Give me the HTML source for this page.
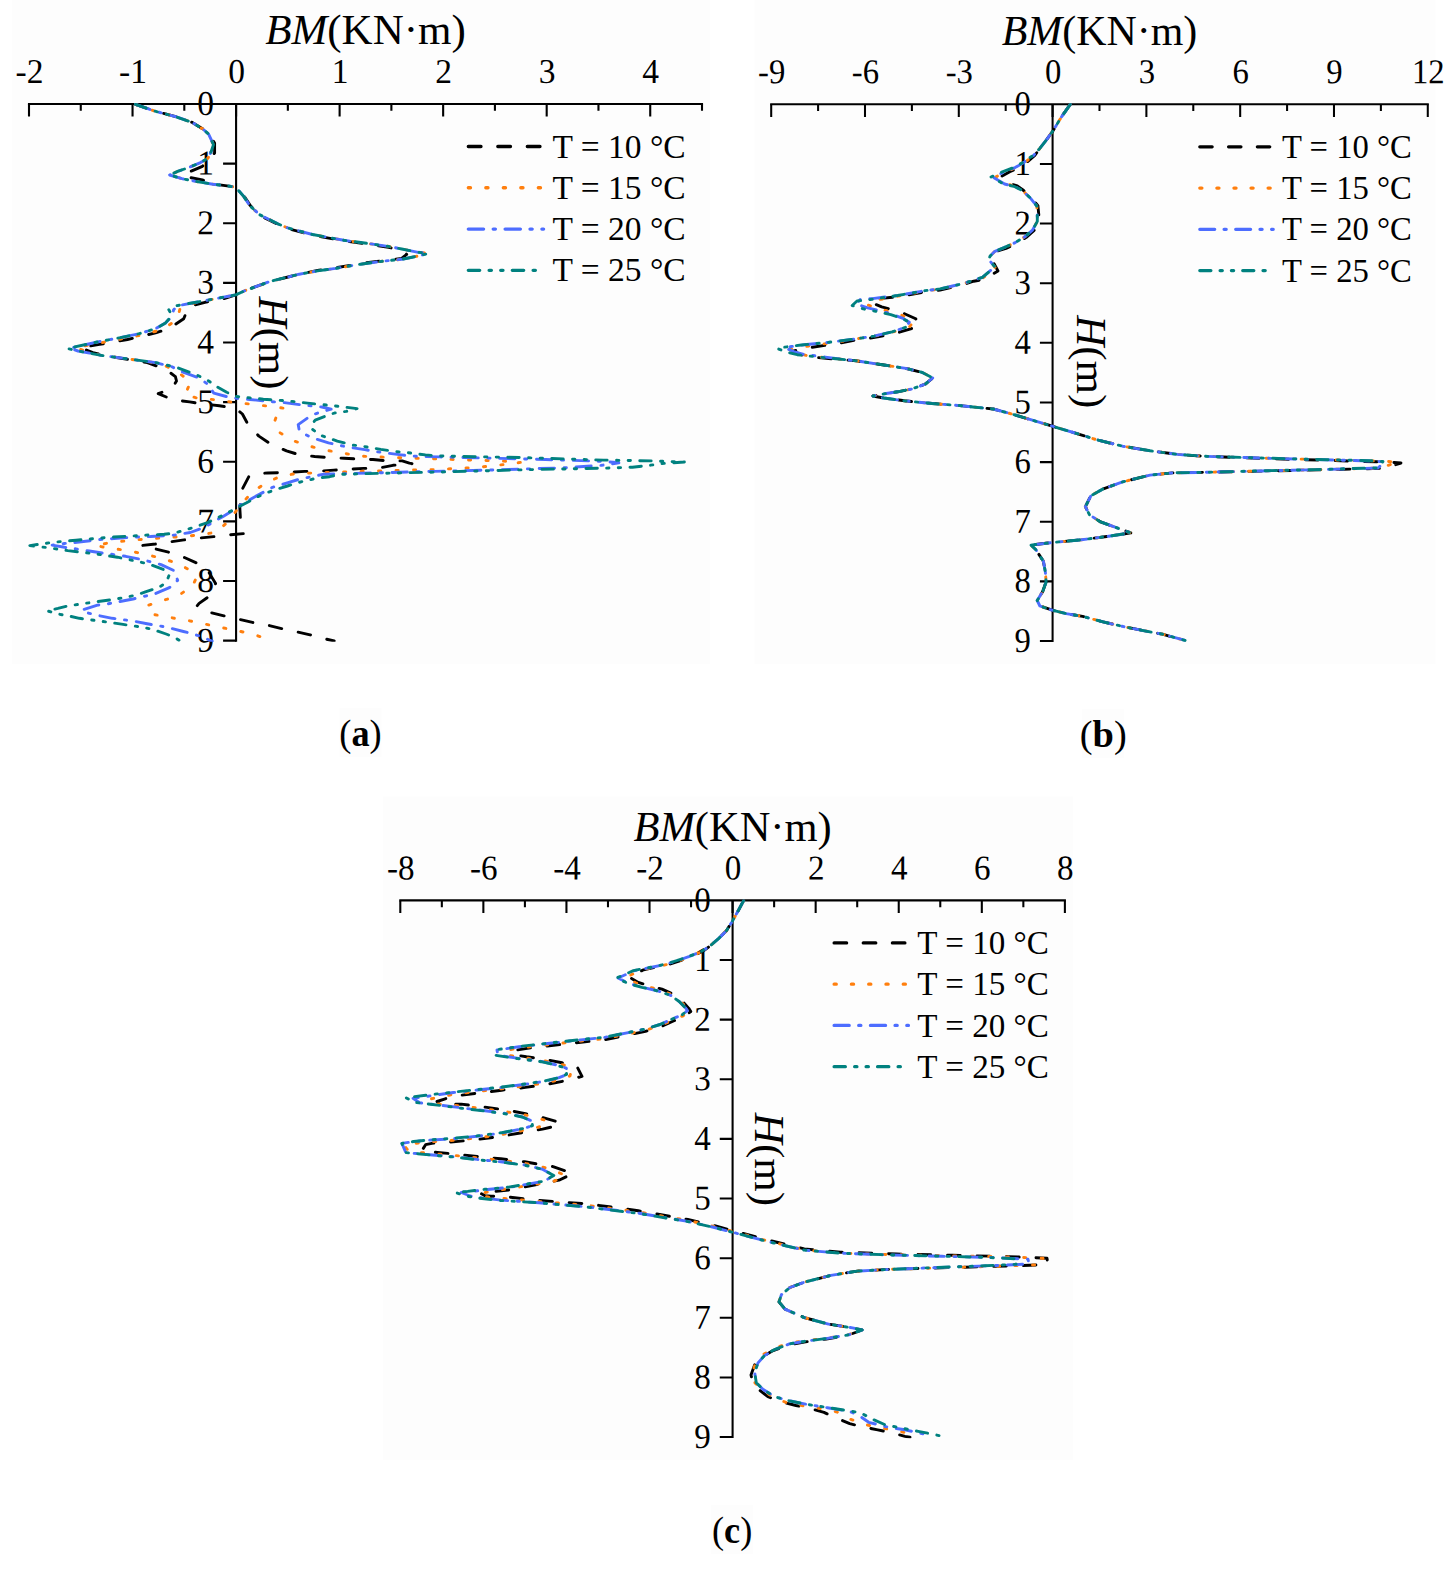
<!DOCTYPE html>
<html lang="en"><head><meta charset="utf-8"><title>Bending moment versus depth at different temperatures</title>
<style>
html,body{margin:0;padding:0;background:#ffffff;}
body{width:1453px;height:1571px;overflow:hidden;}
svg{display:block;}
text{font-family:'Liberation Serif', serif;fill:#000;}
.tk{font-size:33.5px;}
.tn{font-size:34.9px;}
.tt{font-size:43px;}
.cap{font-size:38px;}
.ax{stroke:#000;stroke-width:2.1;fill:none;stroke-linecap:butt;}
.cv{fill:none;stroke-width:2.9;stroke-linejoin:round;stroke-linecap:round;}
</style></head><body>
<svg width="1453" height="1571" viewBox="0 0 1453 1571">
<rect x="0" y="0" width="1453" height="1571" fill="#ffffff"/>
<!-- chart (a) -->
<clipPath id="clip-a"><rect x="27" y="103" width="677" height="538.87"/></clipPath>
<g transform="translate(29 104) scale(1.0 1)">
<rect x="-17.2" y="-104" width="698.2" height="663.7" fill="#fdfdfd"/>
<text class="tt" x="336.5" y="-59.6" text-anchor="middle"><tspan font-style="italic">BM</tspan>(KN·m)</text>
<path class="ax" d="M-1.05 0H674.05"/>
<path class="ax" d="M0 0V12.6M51.77 0V6.8M103.54 0V12.6M155.31 0V6.8M207.08 0V12.6M258.85 0V6.8M310.62 0V12.6M362.38 0V6.8M414.15 0V12.6M465.92 0V6.8M517.69 0V12.6M569.46 0V6.8M621.23 0V12.6M673 0V6.8"/>
<text class="tn" transform="translate(0.5 -21) rotate(0.06) scale(0.96 1)" text-anchor="middle">-2</text>
<text class="tn" transform="translate(104.04 -21) rotate(0.06) scale(0.96 1)" text-anchor="middle">-1</text>
<text class="tn" transform="translate(207.58 -21) rotate(0.06) scale(0.96 1)" text-anchor="middle">0</text>
<text class="tn" transform="translate(311.12 -21) rotate(0.06) scale(0.96 1)" text-anchor="middle">1</text>
<text class="tn" transform="translate(414.65 -21) rotate(0.06) scale(0.96 1)" text-anchor="middle">2</text>
<text class="tn" transform="translate(518.19 -21) rotate(0.06) scale(0.96 1)" text-anchor="middle">3</text>
<text class="tn" transform="translate(621.73 -21) rotate(0.06) scale(0.96 1)" text-anchor="middle">4</text>
<path class="ax" d="M207.08 0V537.72"/>
<path class="ax" d="M194.08 59.63H207.08M194.08 119.26H207.08M194.08 178.89H207.08M194.08 238.52H207.08M194.08 298.15H207.08M194.08 357.78H207.08M194.08 417.41H207.08M194.08 477.04H207.08M194.08 536.67H207.08"/>
<text class="tn" transform="translate(184.88 11) rotate(0.06) scale(0.96 1)" text-anchor="end">0</text>
<text class="tn" transform="translate(184.88 70.63) rotate(0.06) scale(0.96 1)" text-anchor="end">1</text>
<text class="tn" transform="translate(184.88 130.26) rotate(0.06) scale(0.96 1)" text-anchor="end">2</text>
<text class="tn" transform="translate(184.88 189.89) rotate(0.06) scale(0.96 1)" text-anchor="end">3</text>
<text class="tn" transform="translate(184.88 249.52) rotate(0.06) scale(0.96 1)" text-anchor="end">4</text>
<text class="tn" transform="translate(184.88 309.15) rotate(0.06) scale(0.96 1)" text-anchor="end">5</text>
<text class="tn" transform="translate(184.88 368.78) rotate(0.06) scale(0.96 1)" text-anchor="end">6</text>
<text class="tn" transform="translate(184.88 428.41) rotate(0.06) scale(0.96 1)" text-anchor="end">7</text>
<text class="tn" transform="translate(184.88 488.04) rotate(0.06) scale(0.96 1)" text-anchor="end">8</text>
<text class="tn" transform="translate(184.88 547.67) rotate(0.06) scale(0.96 1)" text-anchor="end">9</text>
<text class="tt" transform="translate(229.68 239) rotate(90)" text-anchor="middle"><tspan font-style="italic">H</tspan>(m)</text>
<path d="M439.3 42.5H514.6" fill="none" stroke-linecap="round" stroke="#000000" stroke-width="3.3" stroke-dasharray="12.7 16.8"/>
<text class="tk" x="523.6" y="53.6">T = 10 °C</text>
<path d="M439.3 83.77H514.6" fill="none" stroke-linecap="round" stroke="#FF7F0E" stroke-width="3.3" stroke-dasharray="2.2 15.3"/>
<text class="tk" x="523.6" y="94.87">T = 15 °C</text>
<path d="M439.3 125.04H514.6" fill="none" stroke-linecap="round" stroke="#4D6DFF" stroke-width="3.3" stroke-dasharray="15.3 9.6 2.2 9.7"/>
<text class="tk" x="523.6" y="136.14">T = 20 °C</text>
<path d="M439.3 166.31H514.6" fill="none" stroke-linecap="round" stroke="#00817F" stroke-width="3.3" stroke-dasharray="11.4 9.4 2.3 9.3 2.3 9.3"/>
<text class="tk" x="523.6" y="177.41">T = 25 °C</text>
</g>
<g clip-path="url(#clip-a)">
<path class="cv" d="M135.5 104.3 L154.7 111.1 L175.7 116.7 L191.9 122.3 L203 129.1 L208.6 134.1 L214.6 143 L214.6 153 L209.5 159 L202.4 166.3 L189.4 171.9 L183.5 174.5 L189.4 177.4 L202.4 179.9 L212.9 184 L229 186.1 L235.8 187.3 L244.5 196.6 L250.3 205.6 L259.6 215.3 L277.8 224.4 L287.7 228.5 L312.5 235.1 L343.9 240.9 L368.7 244.3 L388.5 247.3 L401.7 250.5 L406.7 254.3 L401.7 258.4 L385.2 260.3 L360.4 263.6 L335.6 267.8 L317.5 270.4 L299.3 274.2 L269.6 281.6 L244.8 290.7 L235.7 294.9 L220 299.8 L205 302.3 L188.7 306.4 L183.7 318.8 L168.8 328.7 L155.6 332.9 L127.5 339.5 L99.5 344.4 L80.5 347.7 L92.9 352.7 L110 356.5 L130.8 359.8 L147.4 362.6 L165.5 369.2 L175.4 376.6 L176.5 381 L172.1 388.2 L158.2 393.7 L173 399.7 L189.6 401.9 L202.8 403.9 L219.3 405.8 L232.5 407.7 L237 409.5 L242.4 414 L249 426.2 L258.9 436.1 L271 444.3 L286.5 450.9 L299.8 454.9 L314.7 456.5 L329 457.6 L343.9 458.2 L358.7 459.1 L373 459.5 L387.9 460.9 L402.2 460.9 L409.4 463.1 L412 463.7 L392.9 465.3 L378.6 468.1 L363.7 468.4 L349.4 469.2 L334 470.1 L320.2 471.1 L304.8 471.4 L290.5 472.3 L267.7 473 L260.9 473.4 L249.1 476.1 L242.3 489.1 L239.8 507.7 L240.4 518.2 L243.5 533.6 L228.7 534.9 L213.8 536.6 L199.6 538 L184 539.9 L170.4 541.8 L155.4 544 L141.3 545.6 L155.4 548.9 L168.6 552.2 L182.6 556.7 L195.8 562.6 L208.2 571.2 L215.6 583.6 L210.7 595.2 L199.1 603.4 L197 606 L209.9 612.5 L223.9 615.8 L237.9 619.1 L252.5 622.4 L266.7 624.9 L281.6 628.6 L295.8 631.7 L310.1 634.8 L323.7 638.5 L334.2 641" stroke="#000000" stroke-dasharray="12.7 16.8"/>
<path class="cv" d="M135.5 104.3 L154.7 111.1 L175.7 116.7 L191.9 122.3 L203 129.1 L208.6 134.1 L213.5 144.6 L211 152 L208 158.2 L200.5 162.6 L188.8 167.5 L178.2 171.2 L169.6 175 L182 178.7 L194.3 181.1 L212.9 184.2 L229 186.1 L235.8 187.3 L243.9 196.6 L249.7 205.6 L259.6 214.7 L277.8 223.8 L287.7 227.9 L312.5 234.5 L343.9 240.3 L368.7 243.6 L388.5 246.4 L401.7 249 L418.2 252.3 L428.1 253.5 L418.2 256 L401.7 259.3 L385.2 260.9 L360.4 264.2 L335.6 268.4 L317.5 270.9 L299.3 274.2 L269.6 281.6 L244.8 290.7 L235.7 294.9 L207 300.4 L188 304.5 L180.4 307.3 L177.1 319.6 L162.2 329.6 L140 335.3 L119.3 339.3 L98 343.3 L75.5 347.7 L90 352.6 L102.8 355.6 L130.8 359.3 L155.6 362.8 L165.5 365.9 L176.9 371.7 L190.7 381.6 L185.1 394.8 L197.3 398.1 L214.9 399.7 L232.5 402.2 L250.1 404.1 L267.7 406.1 L284.8 408.3 L276.5 416.3 L274 423 L276.5 430.6 L292.3 440.4 L309.2 446.1 L326.3 450.3 L343.3 453.2 L360.9 456.2 L378.6 456.9 L395.6 457.6 L413.2 458.2 L430.9 458.7 L517.7 461.6 L520.6 462.4 L506.1 464.3 L488.8 466.3 L471 467.7 L454 468.6 L436.7 469.5 L401.7 470.3 L367 471.2 L331.8 472.3 L314.1 473 L296.8 473.4 L280.1 476.4 L265.2 483.3 L251.6 492.8 L240 505.5 L229.3 520.5 L216.3 532.2 L198.9 535 L181.6 536.6 L164.2 537.8 L146.3 539 L128.9 540.6 L111.6 542.3 L95.1 545.6 L111.6 548.4 L128.1 550.6 L145.4 554.4 L162 558.3 L178.5 563.8 L191.7 571.2 L196 578.5 L192.5 586.1 L177.7 596 L160.3 601.3 L146.3 605.9 L153.7 614.5 L170.2 617.5 L187.6 620.4 L204.9 624.1 L222.3 627.7 L238.8 631 L256.8 635.4 L271.7 641" stroke="#FF7F0E" stroke-dasharray="2.2 15.3"/>
<path class="cv" d="M135.5 104.3 L154.7 111.1 L175.7 116.7 L191.9 122.3 L203 129.1 L208.6 134.1 L213.5 144.6 L211 152 L208 158.2 L200.5 162.6 L188.8 167.5 L178.2 171.2 L169.6 175 L182 178.7 L194.3 181.1 L212.9 184.2 L229 186.1 L235.8 187.3 L243.9 196.6 L249.7 205.6 L259.6 214.7 L277.8 223.8 L287.7 227.9 L312.5 234.5 L343.9 240.3 L368.7 243.6 L388.5 246.4 L401.7 249 L418.2 252.3 L428.1 253.5 L418.2 256 L401.7 259.3 L385.2 260.9 L360.4 264.2 L335.6 268.4 L317.5 270.9 L299.3 274.2 L269.6 281.6 L244.8 290.7 L235.7 294.9 L205.2 300.6 L177.5 305.8 L173.5 310 L172.5 315.5 L165.5 322.9 L155.6 328.7 L139.1 333.7 L119.3 337.8 L97.8 341.9 L69.5 348.3 L78 351 L102.8 355.6 L130.8 359.3 L155.6 362.6 L172 366.8 L181.8 371.7 L198.4 377.7 L207.2 383.8 L213.8 393.1 L228.1 397 L236.9 398.4 L250.1 399.5 L274.3 401.9 L284.4 402.6 L301 404.8 L311.4 405.9 L321.8 407 L331.2 409.2 L320.2 412.2 L311.4 415.2 L298.2 424.6 L299 429 L303.1 433.2 L311.9 437.8 L328.5 442.8 L338.4 445.2 L347.7 447 L364.8 449.6 L374.2 451.4 L384.6 452.7 L401.1 454.9 L411 456 L421 456.5 L440 456.9 L545.6 459.5 L603.4 461.4 L618.9 462.8 L601.5 465.3 L564.9 467.8 L487.8 470.1 L434 471.4 L390 472.5 L346 473.6 L324 474.2 L308.6 477.3 L298 479.6 L288.1 482.7 L272.6 487.3 L263.4 492.2 L254.1 497.2 L239.2 505.8 L232.4 510.8 L223.1 516.4 L208.2 525 L199.6 529.1 L190.3 532.5 L174.8 535 L150.4 536.5 L137.2 537 L114 538.5 L100 539.5 L76.9 542.3 L64.5 543.5 L52.1 545.1 L64.5 547.3 L76 548.9 L89.3 551 L102.5 553 L125.6 556.3 L142.1 559.6 L161.1 564.6 L173.5 570.4 L177.7 580.3 L169.4 587.7 L153.7 594.3 L142.1 596.8 L133.1 599 L118.2 601.8 L107.5 603.9 L97.5 605.1 L81.9 610 L86 612.5 L95.9 615 L112.4 618.3 L131.4 620.8 L147.1 623.7 L167.7 627.4 L183.4 631.5 L193.3 634 L203.3 637.3 L212.3 641.4" stroke="#4D6DFF" stroke-dasharray="15.3 9.6 2.2 9.7"/>
<path class="cv" d="M135.5 104.3 L154.7 111.1 L175.7 116.7 L191.9 122.3 L203 129.1 L208.6 134.1 L213.5 144.6 L211 152 L208 158.2 L200.5 162.6 L188.8 167.5 L178.2 171.2 L169.6 175 L182 178.7 L194.3 181.1 L212.9 184.2 L229 186.1 L235.8 187.3 L243.9 196.6 L249.7 205.6 L259.6 214.7 L277.8 223.8 L287.7 227.9 L312.5 234.5 L343.9 240.3 L368.7 243.6 L388.5 246.4 L401.7 249 L418.2 252.3 L428.1 253.5 L418.2 256 L401.7 259.3 L385.2 260.9 L360.4 264.2 L335.6 268.4 L317.5 270.9 L299.3 274.2 L269.6 281.6 L244.8 290.7 L235.7 294.9 L205.2 300.6 L177.1 305.6 L168.8 309.7 L172.1 315.5 L165.5 322.9 L155.6 328.7 L139.1 333.7 L119.3 337.8 L97.8 341.9 L67.3 348.5 L78 351 L102.8 355.6 L130.8 359.3 L155.6 362.6 L177.1 367.5 L196.9 375 L208.5 380.8 L215.1 385.7 L226.7 392.3 L235.7 396.4 L246.8 397.5 L263.3 399.2 L279.9 400.3 L292 401.4 L307.5 403.1 L335.1 405.9 L357.1 408.6 L346.1 411.4 L334.5 413 L325.1 416.3 L315.2 420.2 L311.5 425 L311.9 429 L321.3 435.6 L337.3 441.1 L352.7 445 L364.8 446.6 L380.8 449.4 L396.7 451.6 L408.3 452.7 L425.4 454.9 L440 456 L522.5 457.6 L603.4 460.1 L651.6 460.9 L684.4 462 L661.3 463.6 L649.7 465.3 L632.4 467.2 L603.4 468.2 L526.4 469.7 L440 472 L368 473.6 L339.5 474.4 L329.6 476.7 L317.4 478 L307.3 480.4 L296.8 482.9 L287.5 486 L275.1 489.7 L265.8 493.2 L255.3 497.8 L246.6 502.7 L236.1 508.3 L226.8 513.3 L216.9 518.2 L207.6 522.6 L195.2 526.9 L185.3 530 L174.2 533.1 L164.2 534.3 L150.4 534.9 L109.1 537.3 L76.1 540.2 L52.9 542.3 L40.6 544 L29.8 545.6 L40.6 546.8 L52.9 548.4 L67.8 550.6 L95.9 553.9 L117.4 557.2 L128.9 559.6 L140.5 562.1 L150.4 564.6 L163.6 569.6 L169.4 574.5 L166.1 582.8 L158.7 587.4 L145.4 591.9 L135.5 595.2 L124 597.6 L112.4 599.6 L95.9 601.8 L79.4 604.2 L67.8 605.9 L57.9 608.4 L47.2 610.8 L57.1 613.8 L67.8 615.8 L79.4 618.3 L111.6 622.7 L123.1 624.4 L132.2 625.7 L143.8 627.4 L153.7 629.8 L166.1 634 L175.2 637.6 L180 641" stroke="#00817F" stroke-dasharray="11.4 9.4 2.3 9.3 2.3 9.3"/>
</g>
<!-- chart (b) -->
<clipPath id="clip-b"><rect x="769.2" y="103.3" width="660.58" height="538.87"/></clipPath>
<g transform="translate(771.2 104.3) scale(0.9756 1)">
<rect x="-17.2" y="-104" width="698.2" height="663.7" fill="#fdfdfd"/>
<text class="tt" x="336.5" y="-59.6" text-anchor="middle"><tspan font-style="italic">BM</tspan>(KN·m)</text>
<path class="ax" d="M-1.05 0H674.05"/>
<path class="ax" d="M0 0V12.6M48.07 0V6.8M96.14 0V12.6M144.21 0V6.8M192.29 0V12.6M240.36 0V6.8M288.43 0V12.6M336.5 0V6.8M384.57 0V12.6M432.64 0V6.8M480.71 0V12.6M528.79 0V6.8M576.86 0V12.6M624.93 0V6.8M673 0V12.6"/>
<text class="tn" transform="translate(0.5 -21) rotate(0.06) scale(0.96 1)" text-anchor="middle">-9</text>
<text class="tn" transform="translate(96.64 -21) rotate(0.06) scale(0.96 1)" text-anchor="middle">-6</text>
<text class="tn" transform="translate(192.79 -21) rotate(0.06) scale(0.96 1)" text-anchor="middle">-3</text>
<text class="tn" transform="translate(288.93 -21) rotate(0.06) scale(0.96 1)" text-anchor="middle">0</text>
<text class="tn" transform="translate(385.07 -21) rotate(0.06) scale(0.96 1)" text-anchor="middle">3</text>
<text class="tn" transform="translate(481.21 -21) rotate(0.06) scale(0.96 1)" text-anchor="middle">6</text>
<text class="tn" transform="translate(577.36 -21) rotate(0.06) scale(0.96 1)" text-anchor="middle">9</text>
<text class="tn" transform="translate(673.5 -21) rotate(0.06) scale(0.96 1)" text-anchor="middle">12</text>
<path class="ax" d="M288.43 0V537.72"/>
<path class="ax" d="M275.43 59.63H288.43M275.43 119.26H288.43M275.43 178.89H288.43M275.43 238.52H288.43M275.43 298.15H288.43M275.43 357.78H288.43M275.43 417.41H288.43M275.43 477.04H288.43M275.43 536.67H288.43"/>
<text class="tn" transform="translate(266.23 11) rotate(0.06) scale(0.96 1)" text-anchor="end">0</text>
<text class="tn" transform="translate(266.23 70.63) rotate(0.06) scale(0.96 1)" text-anchor="end">1</text>
<text class="tn" transform="translate(266.23 130.26) rotate(0.06) scale(0.96 1)" text-anchor="end">2</text>
<text class="tn" transform="translate(266.23 189.89) rotate(0.06) scale(0.96 1)" text-anchor="end">3</text>
<text class="tn" transform="translate(266.23 249.52) rotate(0.06) scale(0.96 1)" text-anchor="end">4</text>
<text class="tn" transform="translate(266.23 309.15) rotate(0.06) scale(0.96 1)" text-anchor="end">5</text>
<text class="tn" transform="translate(266.23 368.78) rotate(0.06) scale(0.96 1)" text-anchor="end">6</text>
<text class="tn" transform="translate(266.23 428.41) rotate(0.06) scale(0.96 1)" text-anchor="end">7</text>
<text class="tn" transform="translate(266.23 488.04) rotate(0.06) scale(0.96 1)" text-anchor="end">8</text>
<text class="tn" transform="translate(266.23 547.67) rotate(0.06) scale(0.96 1)" text-anchor="end">9</text>
<text class="tt" transform="translate(313.63 257.4) rotate(90)" text-anchor="middle"><tspan font-style="italic">H</tspan>(m)</text>
<path d="M439.3 42.5H514.6" fill="none" stroke-linecap="round" stroke="#000000" stroke-width="3.3" stroke-dasharray="12.7 16.8"/>
<text class="tk" x="523.6" y="53.6">T = 10 °C</text>
<path d="M439.3 83.77H514.6" fill="none" stroke-linecap="round" stroke="#FF7F0E" stroke-width="3.3" stroke-dasharray="2.2 15.3"/>
<text class="tk" x="523.6" y="94.87">T = 15 °C</text>
<path d="M439.3 125.04H514.6" fill="none" stroke-linecap="round" stroke="#4D6DFF" stroke-width="3.3" stroke-dasharray="15.3 9.6 2.2 9.7"/>
<text class="tk" x="523.6" y="136.14">T = 20 °C</text>
<path d="M439.3 166.31H514.6" fill="none" stroke-linecap="round" stroke="#00817F" stroke-width="3.3" stroke-dasharray="11.4 9.4 2.3 9.3 2.3 9.3"/>
<text class="tk" x="523.6" y="177.41">T = 25 °C</text>
</g>
<g clip-path="url(#clip-b)">
<path class="cv" d="M1070.3 104.3 L1061.2 117.3 L1053 130.8 L1046.7 139.5 L1040 148.2 L1034.8 155.4 L1026.4 162.6 L1019.4 167.4 L1009.8 171.8 L1000.5 177 L1009 183.4 L1017.3 185.9 L1022.6 189.6 L1031.2 197.7 L1037.9 205.7 L1039 216.6 L1039 221.5 L1034.1 230.4 L1026.3 237.3 L1016.7 243.4 L1006 248.4 L996.7 251.1 L992.2 255 L991 258 L998 271 L983.5 279.4 L973.7 281.2 L963.1 284.6 L952.5 287.1 L940 290 L925.2 291.8 L897.6 296.8 L881.1 298.4 L873.2 298.6 L871 302.5 L881.7 306.8 L891.3 309.5 L904.5 313.7 L915.2 318.5 L920.4 322.3 L915.9 327.2 L899.2 332.3 L877.7 336.9 L856.3 340 L834.3 344 L812.3 347.2 L799.1 349.7 L793 351.2 L801.7 354.9 L808.9 356.7 L828.7 358.6 L856.3 360.8 L883.9 365 L905.9 368.4 L922.4 372.5 L932.7 378 L925.2 384.2 L911.4 389.1 L897.6 391.8 L883.9 393.9 L872.9 396 L883.9 398 L904.5 400.8 L932 403.5 L960 405.6 L975.3 407.2 L993.2 409 L1011.1 413.8 L1029 419.2 L1053.1 426.4 L1082.6 435.3 L1095.1 439.3 L1122.6 446.2 L1150.1 450.8 L1177.6 454.4 L1205.2 456.3 L1265.8 458.5 L1326.4 460.3 L1387.1 462.1 L1401 463 L1384 468.3 L1319.1 469.9 L1262.1 471.1 L1205.2 472.3 L1172.1 472.9 L1150.1 475.1 L1122.6 481.9 L1103.3 488.8 L1090.9 495.7 L1085.4 506.7 L1089.6 515 L1100.6 521.9 L1117.1 527.9 L1130.8 532.9 L1108.8 536.2 L1081.3 539.8 L1052.4 542.5 L1031 545.1 L1035.8 549.6 L1043.4 561.3 L1045.4 572.3 L1046.1 581.9 L1042.7 591.6 L1037.2 600.5 L1039.9 606 L1052.3 610.2 L1066.1 613.6 L1082.6 616.4 L1103.2 621.9 L1123.9 626.7 L1144.5 630.8 L1162.4 634.2 L1185.1 640.4" stroke="#000000" stroke-dasharray="12.7 16.8"/>
<path class="cv" d="M1070.3 104.3 L1061.2 117.3 L1053 130.8 L1046.7 139.5 L1040 148.2 L1034.1 155.4 L1024.6 162.5 L1016.8 167.3 L1006.3 171.6 L996 176.8 L1006.4 183.7 L1016.1 186.7 L1022.6 190.6 L1030.6 198.3 L1036.8 206 L1037.3 216.6 L1037.3 221.4 L1032.5 230.1 L1024.8 236.8 L1015.2 242.6 L1004.6 247.4 L994.9 251.3 L990.1 256.1 L988.7 259.5 L996 268.5 L982.8 277.9 L973.7 280.2 L963.1 283.7 L952.5 286.2 L940 289.2 L925.2 291 L897.6 296.2 L879.3 299.6 L870.6 300.7 L868 305 L877.9 308.7 L886.7 310.7 L898.9 314.1 L908.8 318.2 L913.5 321.6 L909.7 326.5 L894.8 331.5 L875.5 335.9 L856.3 338.8 L833.1 342.7 L809.9 345.8 L796 348.1 L789.6 349.6 L798.8 353.5 L806.4 355.5 L827.2 357.9 L856.3 360.8 L883.9 365 L905.9 368.4 L922.4 372.5 L932.7 378 L925.2 384.2 L911.4 389.1 L897.6 391.8 L883.9 393.9 L872.9 396 L883.9 398 L904.5 400.8 L932 403.5 L960 405.6 L975.3 407.2 L993.2 409 L1011.1 413.8 L1029 419.2 L1053.1 426.4 L1082.6 435.3 L1095.1 439.3 L1122.6 446.2 L1150.1 450.8 L1177.6 454.4 L1205.2 456.3 L1264.8 458.2 L1324.6 459.7 L1384.3 461.2 L1398 462 L1380 468 L1316.6 469.7 L1260.8 471 L1205.2 472.3 L1172.1 472.9 L1150.1 475.1 L1122.6 481.9 L1103.3 488.8 L1090.9 495.7 L1085.4 506.7 L1089.6 515 L1100.6 521.9 L1117.1 527.9 L1130.8 532.9 L1108.8 536.2 L1081.3 539.8 L1052.4 542.5 L1031 545.1 L1035.8 549.6 L1043.4 561.3 L1045.4 572.3 L1046.1 581.9 L1042.7 591.6 L1037.2 600.5 L1039.9 606 L1052.3 610.2 L1066.1 613.6 L1082.6 616.4 L1103.2 621.9 L1123.9 626.7 L1144.5 630.8 L1162.4 634.2 L1185.1 640.4" stroke="#FF7F0E" stroke-dasharray="2.2 15.3"/>
<path class="cv" d="M1070.3 104.3 L1061.2 117.3 L1053 130.8 L1046.7 139.5 L1040 148.2 L1033.5 155.5 L1023.4 162.7 L1015.1 167.6 L1004 172 L993 177.3 L1004.6 184 L1015.4 186.8 L1022.6 190.6 L1030.6 198.3 L1036.8 206 L1037.3 216.6 L1037.3 221.4 L1032.5 230.1 L1024.8 236.8 L1015.2 242.6 L1004.6 247.4 L994.9 251.3 L990.1 256.1 L988.7 259.5 L994.9 266.9 L982.4 277.3 L973.7 280.2 L963.1 283.6 L952.5 286 L940 288.9 L925.2 290.6 L897.6 295.5 L872.3 298.6 L860.3 299.5 L856 303.8 L867.6 307.9 L877.9 310.3 L892.1 314.1 L903.6 318.7 L909.3 322.3 L905.9 327.1 L892.1 331.9 L874.2 336.1 L856.3 338.8 L831.4 342.1 L806.6 344.5 L791.7 346.5 L784.8 347.8 L794.7 352 L802.8 354.2 L825.2 357.1 L856.3 360.8 L883.9 365 L905.9 368.4 L922.4 372.5 L932.7 378 L925.2 384.2 L911.4 389.1 L897.6 391.8 L883.9 393.9 L872.9 396 L883.9 398 L904.5 400.8 L932 403.5 L960 405.6 L975.3 407.2 L993.2 409 L1011.1 413.8 L1029 419.2 L1053.1 426.4 L1082.6 435.3 L1095.1 439.3 L1122.6 446.2 L1150.1 450.8 L1177.6 454.4 L1205.2 456.3 L1260.7 458.1 L1316.2 459.6 L1371.8 461 L1384.5 461.8 L1378 468 L1315.3 469.7 L1260.2 471 L1205.2 472.3 L1172.1 472.9 L1150.1 475.1 L1122.6 481.9 L1103.3 488.8 L1090.9 495.7 L1085.4 506.7 L1089.6 515 L1100.6 521.9 L1117.1 527.9 L1130.8 532.9 L1108.8 536.2 L1081.3 539.8 L1052.4 542.5 L1031 545.1 L1035.8 549.6 L1043.4 561.3 L1045.4 572.3 L1046.1 581.9 L1042.7 591.6 L1037.2 600.5 L1039.9 606 L1052.3 610.2 L1066.1 613.6 L1082.6 616.4 L1103.2 621.9 L1123.9 626.7 L1144.5 630.8 L1162.4 634.2 L1185.1 640.4" stroke="#4D6DFF" stroke-dasharray="15.3 9.6 2.2 9.7"/>
<path class="cv" d="M1070.3 104.3 L1061.2 117.3 L1053 130.8 L1046.7 139.5 L1040 148.2 L1033.2 155.4 L1022.6 162.6 L1014 167.4 L1002.4 171.8 L991 177 L1003.4 183.8 L1014.9 186.7 L1022.6 190.6 L1030.6 198.3 L1036.8 206 L1037.3 216.6 L1037.3 221.4 L1032.5 230.1 L1024.8 236.8 L1015.2 242.6 L1004.6 247.4 L994.9 251.3 L990.1 256.1 L988.7 259.5 L994.9 266.9 L982.4 277.3 L973.7 280.2 L963.1 283.6 L952.5 286 L940 288.9 L925.2 290.6 L897.6 295.5 L870.1 299.6 L857 301 L852.2 305.5 L864.6 309.2 L875.6 311.3 L890.8 314.7 L903.2 318.9 L909.3 322.3 L905.9 327.1 L892.1 331.9 L874.2 336.1 L856.3 338.8 L828.8 342.3 L801.3 345 L784.8 347.1 L777.2 348.5 L788.2 352.6 L797.2 354.7 L821.9 357.4 L856.3 360.8 L883.9 365 L905.9 368.4 L922.4 372.5 L932.7 378 L925.2 384.2 L911.4 389.1 L897.6 391.8 L883.9 393.9 L872.9 396 L883.9 398 L904.5 400.8 L932 403.5 L960 405.6 L975.3 407.2 L993.2 409 L1011.1 413.8 L1029 419.2 L1053.1 426.4 L1082.6 435.3 L1095.1 439.3 L1122.6 446.2 L1150.1 450.8 L1177.6 454.4 L1205.2 456.3 L1260.2 458 L1315.3 459.4 L1370.4 460.7 L1383 461.5 L1378 467.8 L1315.3 469.6 L1260.2 470.9 L1205.2 472.3 L1172.1 472.9 L1150.1 475.1 L1122.6 481.9 L1103.3 488.8 L1090.9 495.7 L1085.4 506.7 L1089.6 515 L1100.6 521.9 L1117.1 527.9 L1130.8 532.9 L1108.8 536.2 L1081.3 539.8 L1052.4 542.5 L1031 545.1 L1035.8 549.6 L1043.4 561.3 L1045.4 572.3 L1046.1 581.9 L1042.7 591.6 L1037.2 600.5 L1039.9 606 L1052.3 610.2 L1066.1 613.6 L1082.6 616.4 L1103.2 621.9 L1123.9 626.7 L1144.5 630.8 L1162.4 634.2 L1185.1 640.4" stroke="#00817F" stroke-dasharray="11.4 9.4 2.3 9.3 2.3 9.3"/>
</g>
<!-- chart (c) -->
<clipPath id="clip-c"><rect x="398.3" y="899.4" width="668.59" height="538.87"/></clipPath>
<g transform="translate(400.3 900.4) scale(0.9875 1)">
<rect x="-17.2" y="-104" width="698.2" height="663.7" fill="#fdfdfd"/>
<text class="tt" x="336.5" y="-59.6" text-anchor="middle"><tspan font-style="italic">BM</tspan>(KN·m)</text>
<path class="ax" d="M-1.05 0H674.05"/>
<path class="ax" d="M0 0V12.6M42.06 0V6.8M84.12 0V12.6M126.19 0V6.8M168.25 0V12.6M210.31 0V6.8M252.38 0V12.6M294.44 0V6.8M336.5 0V12.6M378.56 0V6.8M420.62 0V12.6M462.69 0V6.8M504.75 0V12.6M546.81 0V6.8M588.88 0V12.6M630.94 0V6.8M673 0V12.6"/>
<text class="tn" transform="translate(0.5 -21) rotate(0.06) scale(0.96 1)" text-anchor="middle">-8</text>
<text class="tn" transform="translate(84.62 -21) rotate(0.06) scale(0.96 1)" text-anchor="middle">-6</text>
<text class="tn" transform="translate(168.75 -21) rotate(0.06) scale(0.96 1)" text-anchor="middle">-4</text>
<text class="tn" transform="translate(252.88 -21) rotate(0.06) scale(0.96 1)" text-anchor="middle">-2</text>
<text class="tn" transform="translate(337 -21) rotate(0.06) scale(0.96 1)" text-anchor="middle">0</text>
<text class="tn" transform="translate(421.12 -21) rotate(0.06) scale(0.96 1)" text-anchor="middle">2</text>
<text class="tn" transform="translate(505.25 -21) rotate(0.06) scale(0.96 1)" text-anchor="middle">4</text>
<text class="tn" transform="translate(589.38 -21) rotate(0.06) scale(0.96 1)" text-anchor="middle">6</text>
<text class="tn" transform="translate(673.5 -21) rotate(0.06) scale(0.96 1)" text-anchor="middle">8</text>
<path class="ax" d="M336.5 0V537.72"/>
<path class="ax" d="M323.5 59.63H336.5M323.5 119.26H336.5M323.5 178.89H336.5M323.5 238.52H336.5M323.5 298.15H336.5M323.5 357.78H336.5M323.5 417.41H336.5M323.5 477.04H336.5M323.5 536.67H336.5"/>
<text class="tn" transform="translate(314.3 11) rotate(0.06) scale(0.96 1)" text-anchor="end">0</text>
<text class="tn" transform="translate(314.3 70.63) rotate(0.06) scale(0.96 1)" text-anchor="end">1</text>
<text class="tn" transform="translate(314.3 130.26) rotate(0.06) scale(0.96 1)" text-anchor="end">2</text>
<text class="tn" transform="translate(314.3 189.89) rotate(0.06) scale(0.96 1)" text-anchor="end">3</text>
<text class="tn" transform="translate(314.3 249.52) rotate(0.06) scale(0.96 1)" text-anchor="end">4</text>
<text class="tn" transform="translate(314.3 309.15) rotate(0.06) scale(0.96 1)" text-anchor="end">5</text>
<text class="tn" transform="translate(314.3 368.78) rotate(0.06) scale(0.96 1)" text-anchor="end">6</text>
<text class="tn" transform="translate(314.3 428.41) rotate(0.06) scale(0.96 1)" text-anchor="end">7</text>
<text class="tn" transform="translate(314.3 488.04) rotate(0.06) scale(0.96 1)" text-anchor="end">8</text>
<text class="tn" transform="translate(314.3 547.67) rotate(0.06) scale(0.96 1)" text-anchor="end">9</text>
<text class="tt" transform="translate(359.3 259) rotate(90)" text-anchor="middle"><tspan font-style="italic">H</tspan>(m)</text>
<path d="M439.3 42.5H514.6" fill="none" stroke-linecap="round" stroke="#000000" stroke-width="3.3" stroke-dasharray="12.7 16.8"/>
<text class="tk" x="523.6" y="53.6">T = 10 °C</text>
<path d="M439.3 83.77H514.6" fill="none" stroke-linecap="round" stroke="#FF7F0E" stroke-width="3.3" stroke-dasharray="2.2 15.3"/>
<text class="tk" x="523.6" y="94.87">T = 15 °C</text>
<path d="M439.3 125.04H514.6" fill="none" stroke-linecap="round" stroke="#4D6DFF" stroke-width="3.3" stroke-dasharray="15.3 9.6 2.2 9.7"/>
<text class="tk" x="523.6" y="136.14">T = 20 °C</text>
<path d="M439.3 166.31H514.6" fill="none" stroke-linecap="round" stroke="#00817F" stroke-width="3.3" stroke-dasharray="11.4 9.4 2.3 9.3 2.3 9.3"/>
<text class="tk" x="523.6" y="177.41">T = 25 °C</text>
</g>
<g clip-path="url(#clip-c)">
<path class="cv" d="M743.6 900.6 L738.7 909.9 L732.5 921 L726.3 930.9 L718.8 938.4 L710.2 945.8 L702.8 951.3 L692.1 956.1 L681.3 960.3 L670.5 963.9 L657.6 966.8 L643.6 969.8 L629 977 L638.3 982.4 L649.1 985.8 L662 989.2 L674.2 994.5 L682.7 1001.5 L688.8 1008.4 L690.8 1011.5 L684.7 1016.4 L678.6 1018.7 L662.1 1026.2 L645.5 1031.4 L629.3 1034.7 L605.1 1039.6 L580.8 1042.2 L555.7 1045 L530.6 1047.9 L513 1050.6 L513 1054.6 L526.4 1056.8 L541.2 1058.8 L562 1062.7 L577 1066.5 L582 1076.3 L568 1080.2 L546 1084.5 L525.4 1087.4 L501.7 1090.2 L477.1 1093.2 L453.3 1096.2 L445.2 1098.8 L437 1101.5 L439.9 1104.8 L450.6 1104.4 L461.2 1104.1 L485 1107.1 L508.7 1110.4 L536.7 1115.8 L557 1121.7 L560.5 1125 L542.5 1129.1 L500.8 1136.4 L477.1 1139.5 L453.3 1141.9 L440.5 1142.4 L431.9 1143.3 L425.6 1144.7 L421.7 1151 L437.5 1152.5 L453.3 1153.9 L477.1 1156.5 L500.8 1158.8 L524.6 1161.8 L553 1166.6 L573 1173.5 L559 1180.2 L535.5 1184.8 L508.7 1190 L496.1 1191.3 L486.8 1192.7 L480.5 1193.3 L484.9 1195.7 L491 1196.3 L500.8 1196.2 L539.1 1200.4 L588.7 1204 L638.2 1210.7 L687.8 1219.5 L712.5 1225.2 L733.6 1230.8 L768.2 1240.2 L804.3 1248.9 L840.5 1252.2 L896.5 1254 L952.5 1255.3 L1008.6 1256.6 L1047 1258.3 L1048 1264.6 L1009.2 1266 L948.9 1267.6 L888.6 1269.4 L857.3 1271.1 L830.8 1275.4 L804.3 1282.2 L789.9 1287.5 L781.4 1294.7 L779 1301.9 L785 1309.1 L804.3 1317.6 L828.4 1324.1 L852.5 1327.9 L862.1 1330 L848.4 1335.1 L826.3 1339 L804.2 1342.1 L787.2 1345.2 L771.8 1351.2 L761.5 1357.2 L754.6 1364.9 L751 1375 L753 1383 L760 1390.5 L767.9 1396.7 L780.3 1401.7 L796 1405.5 L809.2 1408.3 L824 1412.4 L834.8 1417.4 L849.7 1423.6 L862.9 1426.9 L877.7 1429.8 L891 1432.6 L905 1436.4 L910 1437.2" stroke="#000000" stroke-dasharray="12.7 16.8"/>
<path class="cv" d="M743.6 900.6 L738.7 909.9 L732.5 921 L726.3 930.9 L718.8 938.4 L710.2 945.8 L702.5 951.3 L691.4 956.1 L680.2 960.4 L669 964.1 L655.7 967 L641.1 970 L626 977.3 L635.6 982.8 L646.8 986.4 L660 990 L672.3 994.8 L680.8 1001.5 L686.9 1008.1 L689 1011 L683.1 1015.8 L677.1 1018.1 L661 1025.4 L644.8 1030.4 L628.8 1033.7 L604.9 1038.5 L580.8 1041 L552.8 1044.1 L524.7 1047.4 L505 1050.3 L506 1055 L522.7 1057.6 L541.2 1060.1 L559.1 1063.8 L572 1067.3 L570 1076 L560.8 1079.4 L546 1082.8 L525.4 1085.8 L501.7 1088.8 L477.1 1091.6 L453.3 1094.4 L440.7 1096.9 L428 1099.5 L432.3 1103.4 L446.8 1104.6 L461.2 1105.9 L485 1108.9 L508.7 1112.2 L530.4 1115.9 L546 1120.5 L548 1124.5 L533.8 1128.3 L500.8 1134.8 L477.1 1137.9 L453.3 1140.3 L430.6 1141.8 L415.3 1143.3 L404 1145.2 L409 1151.5 L431.2 1153.5 L453.3 1155.3 L477.1 1157.9 L500.8 1160.3 L524.6 1163.3 L548.8 1168.4 L565.7 1175.5 L553.4 1181.5 L532.6 1184.8 L508.7 1188.7 L495.2 1190.6 L485.4 1192.5 L478.6 1193.4 L483.5 1196.2 L490.1 1197.4 L500.8 1198.1 L539.1 1201.5 L588.7 1205.5 L638.2 1211.9 L687.8 1220.4 L712.5 1226.1 L733.6 1231.6 L768.2 1241.1 L804.3 1249.8 L840.5 1253.2 L895.4 1254.7 L950.4 1255.8 L1005.3 1256.8 L1043 1258.3 L1044 1264.5 L1006.2 1266 L947.4 1267.6 L888.6 1269.4 L857.3 1271.1 L830.8 1275.4 L804.3 1282.2 L789.9 1287.5 L781.4 1294.7 L779 1301.9 L785 1309.1 L804.3 1317.6 L828.4 1324.1 L852.5 1327.9 L862.1 1330 L848.5 1334.7 L826.8 1338.2 L804.9 1340.7 L788.1 1343.4 L772.9 1349 L762.8 1354.7 L756 1362.2 L752.5 1372 L755 1383 L762 1389.5 L772 1396.5 L786.1 1402.5 L802 1405.6 L819.1 1408.3 L837.3 1412.1 L849.7 1419 L866.2 1424.8 L882.7 1428.1 L900 1431.4 L917.4 1435.9" stroke="#FF7F0E" stroke-dasharray="2.2 15.3"/>
<path class="cv" d="M743.6 900.6 L738.7 909.9 L732.5 921 L726.3 930.9 L718.8 938.4 L710.2 945.8 L701.7 951.4 L689.5 956.3 L677.3 960.7 L665 964.4 L650.5 967.5 L634.6 970.6 L618 978 L629.4 983.6 L642.6 987.3 L658.1 991 L670.5 995.3 L679.2 1001.5 L685.4 1007.7 L687.5 1010.5 L681.7 1015.2 L675.8 1017.4 L660 1024.5 L644.1 1029.3 L628.3 1032.6 L604.6 1037.4 L580.8 1039.9 L549.8 1043.3 L518.8 1046.8 L497 1050 L498 1055.3 L518.5 1058.4 L541.2 1061.4 L555.8 1064.8 L566.3 1068.1 L567.1 1074.4 L559 1077.7 L546 1081.1 L525.4 1084.2 L501.7 1087.4 L477.1 1090 L453.3 1092.5 L433.2 1095.4 L413 1098.4 L419.7 1102.8 L440.5 1105.2 L461.2 1107.8 L485 1110.7 L508.7 1113.9 L522.2 1116.8 L531.7 1120.9 L532.5 1125.7 L523 1128.6 L500.8 1133.2 L477.1 1136.3 L453.3 1138.7 L429.6 1140.1 L413.7 1141.6 L401.9 1143.4 L405.8 1152.6 L429.6 1154.7 L453.3 1156.7 L477.1 1159.4 L500.8 1161.8 L524.6 1164.9 L542 1169.1 L553.8 1175.5 L544.3 1181.2 L527.7 1184.1 L508.7 1187.4 L487.5 1189.5 L471.9 1191.5 L461.2 1192.5 L470.2 1196 L482 1198 L500.8 1200.1 L539.1 1202.8 L588.7 1207 L638.2 1213.1 L687.8 1221.4 L712.5 1227 L733.6 1232.5 L768.2 1241.7 L804.3 1250.1 L840.5 1253.2 L891.3 1255 L942.2 1256.3 L993.1 1257.5 L1028 1259.2 L1029 1264 L994.8 1265.6 L941.7 1267.4 L888.6 1269.4 L857.3 1271.1 L830.8 1275.4 L804.3 1282.2 L789.9 1287.5 L781.4 1294.7 L779 1301.9 L785 1309.1 L804.3 1317.6 L828.4 1324.1 L852.5 1327.9 L862.1 1330 L848.8 1334.8 L827.4 1338.4 L805.9 1341.1 L789.4 1343.9 L774.5 1349.6 L764.6 1355.4 L758 1362.9 L754.7 1372.8 L756.3 1382.7 L762.9 1389.3 L774.5 1396.7 L789.4 1400.8 L805.9 1404.2 L827.4 1407.7 L848.8 1411.2 L852.1 1412.4 L860.4 1416.5 L868.7 1422.3 L885.2 1426.5 L893.5 1428.1 L905 1429.8 L919.9 1433.1 L929.8 1435.5" stroke="#4D6DFF" stroke-dasharray="15.3 9.6 2.2 9.7"/>
<path class="cv" d="M743.6 900.6 L738.7 909.9 L732.5 921 L726.3 930.9 L718.8 938.4 L710.2 945.8 L701.5 951.4 L689.1 956.3 L676.7 960.7 L664.3 964.4 L649.5 967.5 L633.4 970.6 L616.5 978 L628.4 983.6 L642 987.3 L658.1 991 L670.5 995.3 L679.2 1001.5 L685.4 1007.7 L687.5 1010.5 L681.7 1015.2 L675.8 1017.4 L660 1024.5 L644.1 1029.3 L628.3 1032.5 L604.6 1037.2 L580.8 1039.6 L549.2 1043.1 L517.5 1046.7 L495.3 1049.9 L496.1 1055.4 L517.5 1058.6 L541.2 1061.7 L555.5 1064.9 L565.8 1068.1 L566.6 1074.4 L558.7 1077.6 L546 1080.7 L525.4 1083.9 L501.7 1087.1 L477.1 1089.6 L453.3 1092.1 L429.6 1094.8 L405.8 1097.6 L413.7 1102.2 L437.5 1105.1 L461.2 1108.2 L485 1111.1 L508.7 1114.3 L522.2 1117 L531.7 1120.9 L532.5 1125.7 L523 1128.5 L500.8 1132.8 L477.1 1135.9 L453.3 1138.3 L429.6 1139.9 L413.7 1141.5 L401.9 1143.4 L405.8 1152.6 L429.6 1154.9 L453.3 1157 L477.1 1159.7 L500.8 1162.1 L524.6 1165.2 L542 1169.2 L553.8 1175.5 L544.3 1181.1 L527.7 1183.9 L508.7 1187.1 L485 1189.3 L467.6 1191.4 L455.7 1192.5 L466 1196.1 L479.4 1198.2 L500.8 1200.5 L539.1 1202.8 L588.7 1207.3 L638.2 1213.4 L687.8 1221.6 L712.5 1227.1 L733.6 1232.5 L768.2 1241.7 L804.3 1250.1 L840.5 1253.2 L888.6 1254.9 L936.8 1256.1 L985 1257.3 L1018 1258.9 L1016 1264.3 L985 1265.8 L936.8 1267.5 L888.6 1269.4 L857.3 1271.1 L830.8 1275.4 L804.3 1282.2 L789.9 1287.5 L781.4 1294.7 L779 1301.9 L785 1309.1 L804.3 1317.6 L828.4 1324.1 L852.5 1327.9 L862.1 1330 L848.8 1334.8 L827.4 1338.4 L805.9 1341.1 L789.4 1343.9 L774.5 1349.6 L764.6 1355.4 L758 1362.9 L754.7 1372.8 L756.3 1382.7 L762.9 1389.3 L774.5 1396.7 L789.4 1400.8 L805.9 1404.2 L827.4 1407.5 L848.8 1410.8 L860.4 1412.7 L872 1419 L885.2 1424.8 L901.7 1428.1 L918.2 1431.4 L931.4 1433.9 L943 1436.4" stroke="#00817F" stroke-dasharray="11.4 9.4 2.3 9.3 2.3 9.3"/>
</g>
<rect x="339.5" y="708.3" width="42" height="49" fill="#fdfdfd"/>
<text class="cap" transform="translate(360.5 746.3) scale(0.955 1)" text-anchor="middle">(<tspan font-weight="bold">a</tspan>)</text>
<rect x="1082.2" y="708.7" width="42" height="49" fill="#fdfdfd"/>
<text class="cap" transform="translate(1103.2 746.7) scale(1.01 1)" text-anchor="middle">(<tspan font-weight="bold">b</tspan>)</text>
<rect x="711.1" y="1504.9" width="42" height="49" fill="#fdfdfd"/>
<text class="cap" transform="translate(732.1 1542.9) scale(0.955 1)" text-anchor="middle">(<tspan font-weight="bold">c</tspan>)</text>
</svg></body></html>
